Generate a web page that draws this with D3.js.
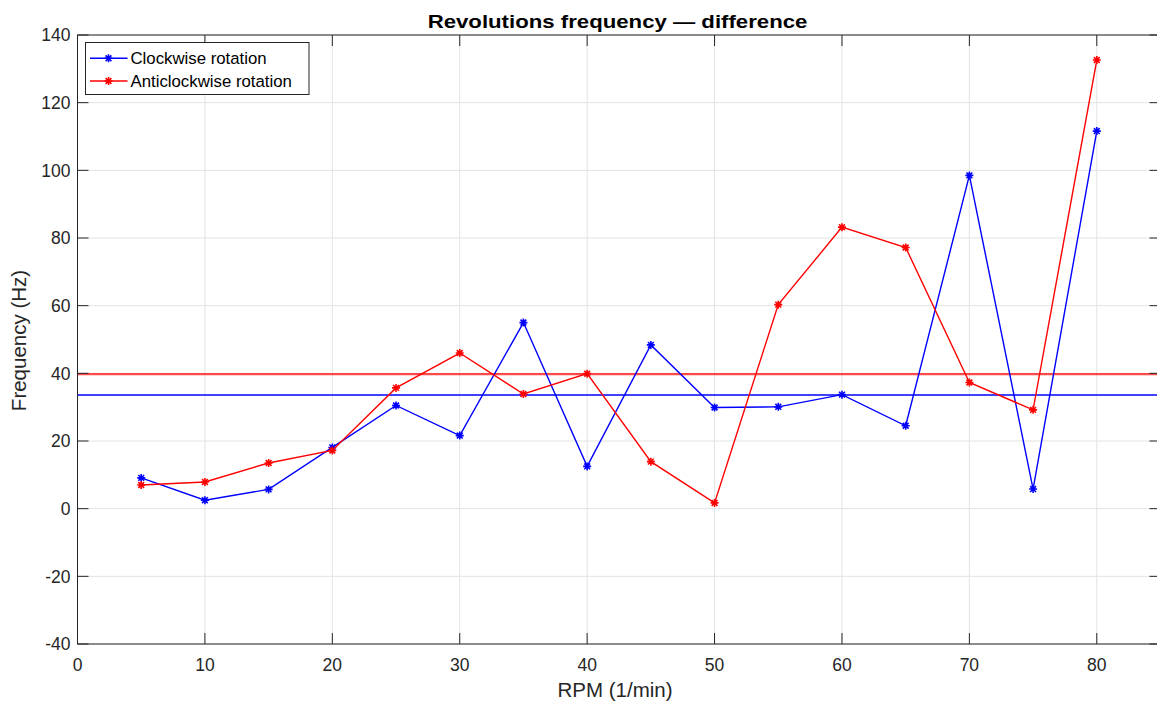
<!DOCTYPE html>
<html>
<head>
<meta charset="utf-8">
<script src="https://cdn.jsdelivr.net/npm/d3@7"></script>
<style>
  body { margin: 0; background: #fff; }
  text { font-family: "Liberation Sans", Arial, Helvetica, sans-serif; fill: #262626; }
</style>
</head>
<body>
<svg id="chart"></svg>
<script>
// rpm steps
const rpm = [5, 10, 15, 20, 25, 30, 35, 40, 45, 50, 55, 60, 65, 70, 75, 80]
// frequency difference per direction (Hz)
const clockwise = [9.1, 2.5, 5.7, 18.1, 30.5, 21.6, 55.0, 12.5, 48.4, 29.9, 30.1, 33.7, 24.5, 98.5, 5.8, 111.6]
const anticlockwise = [7.0, 7.9, 13.5, 17.2, 35.7, 46.0, 33.9, 39.9, 13.9, 1.7, 60.3, 83.2, 77.2, 37.3, 29.2, 132.6]
const xTickValues = [0, 10, 20, 30, 40, 50, 60, 70, 80]
const yTickValues = [-40, -20, 0, 20, 40, 60, 80, 100, 120, 140]
const seriesNames = ['Clockwise rotation', 'Anticlockwise rotation']

//graph size
const graphWidth = 1157
const graphHeight = 709
const margin = { top: 35, bottom: 65, left: 77.5, right: -3.5 }

const svg = d3.select('#chart')
    .attr('width', graphWidth)
    .attr('height', graphHeight)

const x = d3.scaleLinear().domain([0, 85]).range([margin.left, graphWidth - margin.right])
const y = d3.scaleLinear().domain([-40, 140]).range([graphHeight - margin.bottom, margin.top])

const x0 = x.range()[0], x1 = x.range()[1]
const y0 = y.range()[0], y1 = y.range()[1]
const axisColor = '#262626'

//grid
const grid = svg.append('g')
grid.selectAll('line.gx').data(xTickValues).enter().append('line')
    .attr('x1', d => x(d)).attr('x2', d => x(d))
    .attr('y1', y0).attr('y2', y1)
    .attr('stroke', '#e3e3e3').attr('stroke-width', 1)
grid.selectAll('line.gy').data(yTickValues).enter().append('line')
    .attr('x1', x0).attr('x2', x1)
    .attr('y1', d => y(d)).attr('y2', d => y(d))
    .attr('stroke', '#e3e3e3').attr('stroke-width', 1)

//mean lines
const series = [
  { name: seriesNames[0], values: clockwise, color: '#0000ff', meanColor: 'rgba(0,0,255,0.75)' },
  { name: seriesNames[1], values: anticlockwise, color: '#ff0000', meanColor: 'rgba(255,0,0,0.7)' }
]

series.forEach(s => {
  const m = d3.mean(s.values)
  svg.append('line')
      .attr('x1', x0).attr('x2', x1)
      .attr('y1', y(m)).attr('y2', y(m))
      .attr('stroke', s.meanColor)
      .attr('stroke-width', 2.2)
})

//asterisk marker
const star = 'M-4,0L4,0M0,-4L0,4M-2.9,-2.9L2.9,2.9M-2.9,2.9L2.9,-2.9'

const line = d3.line()
    .x((d, i) => x(rpm[i]))
    .y(d => y(d))

series.forEach(s => {
  svg.append('path')
      .datum(s.values)
      .attr('fill', 'none')
      .attr('stroke', s.color)
      .attr('stroke-width', 1.4)
      .attr('d', line)

  svg.selectAll(null).data(s.values).enter().append('path')
      .attr('d', star)
      .attr('transform', (d, i) => `translate(${x(rpm[i])},${y(d)})`)
      .attr('stroke', s.color)
      .attr('stroke-width', 1.6)
})

//box and ticks
svg.append('rect')
    .attr('x', x0).attr('y', y1)
    .attr('width', x1 - x0).attr('height', y0 - y1)
    .attr('fill', 'none').attr('stroke', axisColor).attr('stroke-width', 1)

const tickLen = 11
const ticks = svg.append('g').attr('stroke', axisColor).attr('stroke-width', 1)
xTickValues.forEach(v => {
  ticks.append('line').attr('x1', x(v)).attr('x2', x(v)).attr('y1', y0).attr('y2', y0 - tickLen)
  ticks.append('line').attr('x1', x(v)).attr('x2', x(v)).attr('y1', y1).attr('y2', y1 + tickLen)
})
yTickValues.forEach(v => {
  ticks.append('line').attr('x1', x0).attr('x2', x0 + tickLen).attr('y1', y(v)).attr('y2', y(v))
  ticks.append('line').attr('x1', x1).attr('x2', x1 - tickLen).attr('y1', y(v)).attr('y2', y(v))
})

//tick labels
svg.selectAll('text.xl').data(xTickValues).enter().append('text')
    .attr('x', d => x(d)).attr('y', y0 + 27)
    .attr('text-anchor', 'middle')
    .style('font-size', '17.5px')
    .text(d => d)

svg.selectAll('text.yl').data(yTickValues).enter().append('text')
    .attr('x', x0 - 7).attr('y', d => y(d) + 6.3)
    .attr('text-anchor', 'end')
    .style('font-size', '17.5px')
    .text(d => d)

//titles (glyphs are wider in the reference, so stretch horizontally)
svg.append('text')
    .attr('transform', 'translate(617.5,27.5) scale(1.2,1)')
    .attr('text-anchor', 'middle')
    .style('font-size', '18.5px').style('font-weight', 'bold')
    .style('fill', '#000')
    .text('Revolutions frequency — difference')

svg.append('text')
    .attr('x', (x0 + x1) / 2 - 4).attr('y', 697)
    .attr('text-anchor', 'middle')
    .style('font-size', '20.5px')
    .text('RPM (1/min)')

svg.append('text')
    .attr('transform', `translate(26,${(y0 + y1) / 2 + 1}) rotate(-90)`)
    .attr('text-anchor', 'middle')
    .style('font-size', '20.5px')
    .text('Frequency (Hz)')

//legend
const legend = svg.append('g')
legend.append('rect')
    .attr('x', 85.5).attr('y', 42.5)
    .attr('width', 223.5).attr('height', 52)
    .attr('fill', '#fff').attr('stroke', axisColor).attr('stroke-width', 1)

series.forEach((s, i) => {
  const ly = 58.3 + i * 22.7
  legend.append('line')
      .attr('x1', 90).attr('x2', 127.5)
      .attr('y1', ly).attr('y2', ly)
      .attr('stroke', s.color).attr('stroke-width', 1.4)
  legend.append('path')
      .attr('d', star)
      .attr('transform', `translate(108.5,${ly})`)
      .attr('stroke', s.color).attr('stroke-width', 1.6)
  legend.append('text')
      .attr('x', 130.5).attr('y', ly + 6)
      .style('font-size', '16.8px')
      .style('fill', '#000')
      .text(s.name)
})
</script>
</body>
</html>
